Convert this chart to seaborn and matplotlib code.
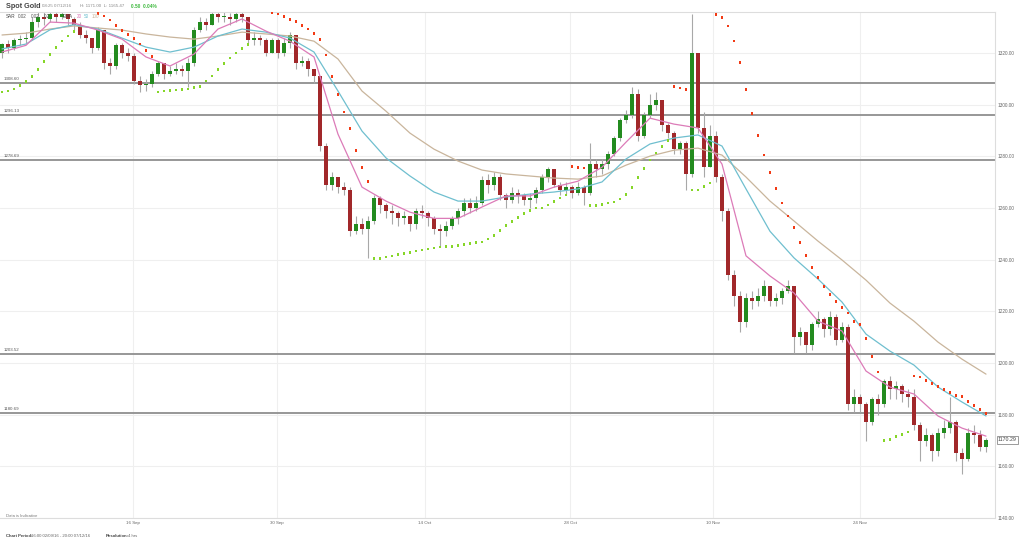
import numpy as np
import pandas as pd
import seaborn as sns
import matplotlib
matplotlib.use("Agg")
import matplotlib.pyplot as plt
import matplotlib.transforms as mtransforms

# candles (one candle here ~ two 4h bars of the original)
opens = [1320, 1323.5, 1322, 1325, 1325.5, 1326, 1332, 1334, 1333, 1335,
         1334, 1335, 1333, 1331, 1327, 1326, 1322, 1329, 1316, 1315,
         1323, 1320, 1319, 1309, 1307.5, 1308, 1312, 1316, 1312, 1313,
         1314, 1313, 1316, 1329, 1332, 1331, 1335, 1334, 1334, 1333,
         1335, 1334, 1325, 1326, 1325, 1320, 1325, 1320, 1324, 1327,
         1316, 1317, 1314, 1311, 1284, 1269, 1272, 1268, 1267, 1251,
         1254, 1252, 1255, 1264, 1261, 1259, 1258, 1256, 1257, 1254,
         1259, 1258, 1256, 1252, 1251, 1253, 1256, 1259, 1262, 1260,
         1262, 1271, 1269, 1272, 1265, 1263, 1266, 1265, 1263, 1264,
         1267, 1272, 1275, 1269, 1267, 1268, 1266, 1268, 1266, 1277,
         1275, 1277, 1281, 1287, 1294, 1296, 1304, 1288, 1296, 1300,
         1302, 1292, 1289, 1283, 1285, 1273, 1320, 1291, 1276, 1288,
         1272, 1259, 1234, 1226, 1216, 1225, 1224, 1226, 1230, 1224,
         1225, 1228, 1230, 1210, 1212, 1207, 1215, 1217, 1213, 1218,
         1209, 1214, 1184, 1187, 1184, 1177, 1186, 1184, 1193, 1190,
         1191, 1188, 1187, 1176, 1170, 1172, 1166, 1173, 1175, 1177,
         1165, 1163, 1173, 1172, 1167.5]
highs = [1324, 1325, 1326, 1327, 1328, 1334, 1336, 1336, 1337, 1336.5,
         1337, 1335, 1334, 1332, 1329, 1326, 1330, 1329, 1318, 1324,
         1324, 1322, 1320, 1311, 1310, 1313, 1317, 1316, 1315, 1316,
         1315.5, 1318, 1330, 1334, 1333.5, 1337, 1337, 1336, 1335.5, 1337,
         1336.5, 1334, 1328, 1327, 1326, 1326, 1326, 1326, 1328, 1327,
         1319, 1318, 1314, 1311, 1285, 1274, 1272, 1270, 1268, 1257,
         1256, 1257, 1265, 1264.5, 1262, 1261, 1259, 1259, 1257, 1260,
         1261, 1259, 1257, 1254, 1255, 1257, 1260, 1264, 1264, 1264.5,
         1272.5, 1273, 1274, 1273, 1266, 1268, 1267.5, 1266, 1266, 1268,
         1273, 1276, 1275, 1270, 1270, 1269, 1270, 1269, 1285, 1279,
         1279, 1282, 1288, 1295, 1298, 1307, 1306, 1297, 1304, 1305,
         1302, 1293, 1290, 1286, 1286, 1335, 1320, 1297, 1292, 1290,
         1273, 1260, 1236, 1228, 1227, 1228, 1229, 1232, 1230, 1227,
         1229, 1232, 1230, 1214, 1212, 1216, 1220, 1218, 1220, 1219,
         1216, 1215, 1190, 1188, 1185, 1187, 1188, 1194, 1195, 1193,
         1192, 1190, 1190, 1177, 1175, 1173, 1175, 1178, 1187, 1178,
         1167, 1175, 1176, 1174, 1171]
lows = [1318, 1320, 1321, 1323, 1324, 1325, 1330, 1331, 1332, 1332,
        1333, 1331, 1329, 1326, 1324, 1320, 1321, 1314, 1312, 1314,
        1318, 1317, 1308, 1305, 1305.5, 1307, 1311, 1310, 1311, 1312,
        1311, 1307, 1315, 1328, 1329, 1331, 1332, 1332, 1331, 1332,
        1332, 1324, 1323, 1323, 1319, 1320, 1318, 1319, 1322, 1314,
        1315, 1311, 1308.5, 1282, 1267, 1267, 1266, 1265, 1249, 1250,
        1250, 1240.5, 1254, 1258, 1256, 1254, 1253, 1254, 1251, 1252,
        1256, 1253, 1250, 1245, 1249, 1252, 1254, 1257, 1258, 1259,
        1261, 1266, 1267, 1263, 1260, 1262, 1262, 1261, 1260, 1262,
        1266, 1270, 1268, 1265, 1265, 1264, 1265, 1261, 1265, 1272,
        1273, 1275, 1280, 1286, 1293, 1295, 1286, 1287, 1295, 1298,
        1290, 1287, 1281, 1281, 1267, 1272, 1289, 1272, 1276, 1270,
        1255, 1232, 1222, 1212, 1214, 1221, 1222, 1224, 1222, 1222,
        1223, 1227, 1204, 1207, 1204, 1205, 1214, 1210, 1211, 1207,
        1208, 1182, 1181, 1181, 1170, 1176, 1180, 1183, 1186, 1186,
        1185, 1183, 1174, 1162, 1168, 1162, 1164, 1171, 1173, 1162,
        1157, 1162, 1169, 1166, 1165.47]
closes = [1323.5, 1322, 1325, 1325.5, 1326, 1332, 1334, 1333, 1335, 1334,
          1335, 1333, 1331, 1327, 1326, 1322, 1329, 1316, 1315, 1323,
          1320, 1319, 1309, 1307.5, 1308, 1312, 1316, 1312, 1313, 1314,
          1313, 1316, 1329, 1332, 1331, 1335, 1334, 1334, 1333, 1335,
          1334, 1325, 1326, 1325, 1320, 1325, 1320, 1324, 1327, 1316,
          1317, 1314, 1311, 1284, 1269, 1272, 1268, 1267, 1251, 1254,
          1252, 1255, 1264, 1261, 1259, 1258, 1256, 1257, 1254, 1259,
          1258, 1256, 1252, 1251, 1253, 1256, 1259, 1262, 1260, 1262,
          1271, 1269, 1272, 1265, 1263, 1266, 1265, 1263, 1264, 1267,
          1272, 1275, 1269, 1267, 1268, 1266, 1268, 1266, 1277, 1275,
          1277, 1281, 1287, 1294, 1296, 1304, 1288, 1296, 1300, 1302,
          1292, 1289, 1283, 1285, 1273, 1320, 1291, 1276, 1288, 1272,
          1259, 1234, 1226, 1216, 1225, 1224, 1226, 1230, 1224, 1225,
          1228, 1230, 1210, 1212, 1207, 1215, 1217, 1213, 1218, 1209,
          1214, 1184, 1187, 1184, 1177, 1186, 1184, 1193, 1190, 1191,
          1188, 1187, 1176, 1170, 1172, 1166, 1173, 1175, 1177, 1165,
          1163, 1173, 1172, 1167.5, 1170.29]

# EMA lines read every 4th candle
ema_idx = list(range(0, 165, 4))
ema20 = [1320.4, 1323.0, 1332.0, 1331.6, 1328.9, 1325.4, 1318.5, 1315.0, 1319.6, 1329.3,
         1333.2, 1328.5, 1324.6, 1318.5, 1288.6, 1268.1, 1262.7, 1258.4, 1256.0, 1256.0,
         1260.4, 1264.7, 1264.7, 1268.1, 1270.4, 1275.8, 1285.5, 1294.8, 1292.5, 1291.0,
         1277.0, 1241.5, 1233.7, 1227.1, 1216.2, 1212.4, 1196.9, 1190.7, 1188.0, 1179.5,
         1174.8, 1171.7]
ema50 = [1321.6, 1323.5, 1329.0, 1331.0, 1329.3, 1325.8, 1322.3, 1320.4, 1322.3, 1326.6,
         1329.3, 1328.1, 1325.8, 1320.4, 1305.3, 1289.8, 1279.4, 1272.4, 1266.2, 1262.7,
         1262.7, 1264.3, 1265.4, 1266.2, 1267.4, 1270.1, 1279.0, 1284.8, 1287.1, 1288.3,
         1284.0, 1267.4, 1251.0, 1240.7, 1232.5, 1223.6, 1211.2, 1204.6, 1199.2, 1190.7,
         1184.9, 1179.5]
ema100 = [1327.0, 1327.7, 1329.3, 1330.5, 1329.7, 1328.9, 1327.4, 1326.2, 1325.4, 1326.6,
          1328.1, 1327.4, 1326.6, 1324.6, 1317.7, 1305.3, 1297.5, 1289.0, 1282.8, 1278.2,
          1274.7, 1273.2, 1272.4, 1271.6, 1271.2, 1272.4, 1276.6, 1280.1, 1282.4, 1283.2,
          1280.5, 1272.0, 1262.7, 1255.0, 1247.2, 1239.9, 1232.1, 1223.2, 1216.2, 1208.1,
          1201.5, 1195.7]

levels = [1308.60, 1296.13, 1278.69, 1203.52, 1180.69]
tick_pos = [21.8, 45.8, 70.5, 94.7, 118.5, 143.0]
tick_labels = ["16 Sep", "30 Sep", "14 Oct", "28 Oct", "10 Nov", "24 Nov"]
price_ticks = [1140, 1160, 1180, 1200, 1220, 1240, 1260, 1280, 1300, 1320]
sar_start = 1305.0
last_price = 1170.29

df = pd.DataFrame({"open": opens, "high": highs, "low": lows, "close": closes})
df["i"] = np.arange(len(df))


# parabolic SAR 0.02 / 0.02 / 0.2
def psar(high, low, start, step=0.02, max_af=0.2):
    n = len(high)
    sar = np.zeros(n)
    bull = np.ones(n, dtype=bool)
    sar[0] = start
    af, ep = step, high[0]
    for t in range(1, n):
        s = sar[t - 1] + af * (ep - sar[t - 1])
        if bull[t - 1]:
            s = min(s, low[t - 1], low[max(t - 2, 0)])
            if low[t] < s:
                bull[t] = False
                s, ep, af = ep, low[t], step
            elif high[t] > ep:
                ep, af = high[t], min(af + step, max_af)
        else:
            s = max(s, high[t - 1], high[max(t - 2, 0)])
            if high[t] > s:
                bull[t] = True
                s, ep, af = ep, high[t], step
            else:
                bull[t] = False
                if low[t] < ep:
                    ep, af = low[t], min(af + step, max_af)
        sar[t] = s
    return sar, bull


df["sar"], df["bull"] = psar(df["high"].values, df["low"].values, sar_start)
df["side"] = np.where(df["bull"], "up", "down")

sns.set_theme(style="white")
plt.rcParams["font.family"] = ["Liberation Sans", "DejaVu Sans"]

fig = plt.figure(figsize=(10.24, 5.4), dpi=100)
ax = fig.add_axes([0, 22 / 540, 995 / 1024, 506 / 540])

ax.set_xlim(-1 / 3, 165.5)
ax.set_ylim(1140, 1335.9)

for p in price_ticks:
    ax.axhline(p, color="#efefef", lw=0.8, zorder=0)
for t in tick_pos:
    ax.axvline(t, color="#efefef", lw=0.8, zorder=0)

blend = mtransforms.blended_transform_factory(ax.transAxes, ax.transData)
for lvl in levels:
    ax.axhline(lvl, color="#8f8f8f", lw=1.3, zorder=1)
    ax.text(4 / 995, lvl + 0.7, f"{lvl:.2f}", transform=blend,
            fontsize=3.2, color="#555555", ha="left", va="bottom")

# candles
up = df["close"] >= df["open"]
ax.vlines(df["i"], df["low"], df["high"], color="#a8a8a8", lw=0.8, zorder=2)
body_h = (df["close"] - df["open"]).abs().clip(lower=0.4)
body_b = df[["open", "close"]].min(axis=1)
ax.bar(df["i"][up], body_h[up], bottom=body_b[up], width=0.55, color="#238b1f", zorder=3, linewidth=0)
ax.bar(df["i"][~up], body_h[~up], bottom=body_b[~up], width=0.55, color="#a1282a", zorder=3, linewidth=0)

# EMAs
sns.lineplot(x=ema_idx, y=ema100, color="#c9b59c", lw=0.9, ax=ax, zorder=4)
sns.lineplot(x=ema_idx, y=ema50, color="#6fbfcf", lw=0.9, ax=ax, zorder=4)
sns.lineplot(x=ema_idx, y=ema20, color="#dc7bb8", lw=0.9, ax=ax, zorder=4)

# SAR dots
sns.scatterplot(data=df, x="i", y="sar", hue="side", palette={"up": "#86d629", "down": "#f23a14"},
                marker="s", s=3.5, linewidth=0, legend=False, ax=ax, zorder=5)

ax.set_xlabel("")
ax.set_ylabel("")
ax.set_xticks(tick_pos)
ax.set_xticklabels(tick_labels)
ax.set_yticks(price_ticks)
ax.set_yticklabels([f"{p:.2f}" for p in price_ticks])
ax.yaxis.tick_right()
ax.tick_params(axis="x", length=0, pad=2.5, labelsize=3.2, labelcolor="#666666")
ax.tick_params(axis="y", length=0, pad=1.8, labelsize=3.4, labelcolor="#666666")
for side in ["top", "right", "bottom"]:
    ax.spines[side].set_color("#dddddd")
    ax.spines[side].set_linewidth(0.8)
ax.spines["left"].set_visible(False)

ax.text(1.003, last_price, f"{last_price:.2f}", transform=blend,
        fontsize=3.8, color="#444444", ha="left", va="center",
        bbox=dict(boxstyle="square,pad=0.25", fc="white", ec="#8a8a8a", lw=0.6))


def ftext(px, py, s, **kw):
    fig.text(px / 1024, 1 - py / 540, s, va="center", ha="left", **kw)


# header
ftext(6, 6, "Spot Gold", fontsize=5.2, fontweight="bold", color="#444444")
ftext(42, 6, "08:25 07/12/16", fontsize=3.2, color="#888888")
ftext(80, 6, "H: 1171.00  L: 1165.47", fontsize=3.2, color="#888888")
ftext(131, 6, "0.50  0.04%", fontsize=3.4, fontweight="bold", color="#3cb83c")

# indicator legend
ftext(6, 17, "SAR", fontsize=3.3, color="#444444")
ftext(18, 17, "0.02", fontsize=3.3, color="#555555")
ftext(31, 17, "0.02", fontsize=3.3, color="#555555")
ftext(44, 17, "0.2", fontsize=3.3, color="#555555")
ftext(63, 17, "EMA", fontsize=3.3, color="#444444")
ftext(77, 17, "20", fontsize=3.3, color="#dc7bb8")
ftext(84, 17, "50", fontsize=3.3, color="#6fbfcf")
ftext(92, 17, "100", fontsize=3.3, color="#c9b59c")

# footer
ftext(6, 516, "Data is Indicative", fontsize=3.0, color="#777777")
ftext(6, 536, "Chart Period:", fontsize=3.1, fontweight="bold", color="#444444")
ftext(31, 536, "16:00 02/09/16 - 20:00 07/12/16", fontsize=3.1, color="#666666")
ftext(106, 536, "Resolution:", fontsize=3.1, fontweight="bold", color="#444444")
ftext(128, 536, "4 hrs", fontsize=3.1, color="#666666")

fig.savefig("out.png", dpi=100)
